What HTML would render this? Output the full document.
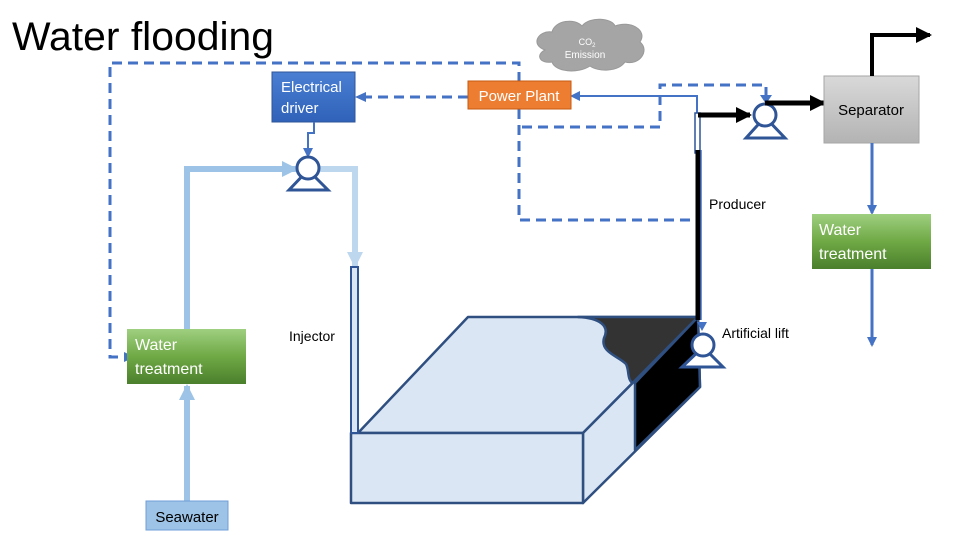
<!DOCTYPE html>
<html><head><meta charset="utf-8"><style>
html,body{margin:0;padding:0;background:#fff;}
svg{display:block;}
text{font-family:"Liberation Sans",sans-serif;}
</style></head><body>
<svg width="960" height="540" viewBox="0 0 960 540" xmlns="http://www.w3.org/2000/svg">
<defs>
<linearGradient id="gb" x1="0" y1="0" x2="0" y2="1"><stop offset="0" stop-color="#4a7fd4"/><stop offset="1" stop-color="#2f62b8"/></linearGradient>
<linearGradient id="gg" x1="0" y1="0" x2="0" y2="1"><stop offset="0" stop-color="#9fcf80"/><stop offset="0.5" stop-color="#6fa945"/><stop offset="1" stop-color="#4b7f2c"/></linearGradient>
<linearGradient id="gs" x1="0" y1="0" x2="0" y2="1"><stop offset="0" stop-color="#d9d9d9"/><stop offset="1" stop-color="#b3b3b3"/></linearGradient>
<marker id="ab" markerWidth="10" markerHeight="10" refX="8" refY="5" orient="auto" markerUnits="userSpaceOnUse"><path d="M0,0 L10,5 L0,10 Z" fill="#4472c4"/></marker>
<marker id="ak" markerWidth="16" markerHeight="16" refX="14" refY="8" orient="auto" markerUnits="userSpaceOnUse"><path d="M0,0 L16,8 L0,16 Z" fill="#000"/></marker>
<marker id="al" markerWidth="16" markerHeight="16" refX="14" refY="8" orient="auto" markerUnits="userSpaceOnUse"><path d="M0,0 L16,8 L0,16 Z" fill="#9dc3e6"/></marker>
<marker id="al2" markerWidth="16" markerHeight="16" refX="14" refY="8" orient="auto" markerUnits="userSpaceOnUse"><path d="M0,0 L16,8 L0,16 Z" fill="#bdd7ee"/></marker>
</defs>

<text x="12" y="50" font-size="40" fill="#000" textLength="262" lengthAdjust="spacingAndGlyphs">Water flooding</text>

<!-- cloud -->
<path d="M545,50 C530,45 538,30 552,32 C555,20 575,18 582,26 C590,16 612,18 615,26 C630,20 648,30 640,42 C650,50 640,66 625,62 C618,72 598,72 590,66 C578,74 555,72 552,62 C540,64 535,55 545,50 Z" fill="#a5a5a5" stroke="#999" stroke-width="1"/>
<text x="587" y="45" font-size="9" fill="#fff" text-anchor="middle">CO<tspan font-size="6" dy="2">2</tspan></text>
<text x="585" y="58" font-size="10" fill="#fff" text-anchor="middle">Emission</text>

<!-- dashed lines -->
<g fill="none" stroke="#4472c4" stroke-width="3" stroke-dasharray="10,6">
<path d="M519,82 V63 H110 V357 H124"/>
<path d="M468,97 H366"/>
<path d="M519,109 V220 H697"/>
<path d="M522,127 H660 V85 H766 V96"/>
</g>
<path d="M355,97 L366,92 L366,102 Z" fill="#4472c4"/>
<path d="M135,357 L124,352 L124,362 Z" fill="#4472c4"/>
<path d="M766,104 L760,95 L772,95 Z" fill="#4472c4"/>

<path d="M697,113 V96 H572" fill="none" stroke="#4472c4" stroke-width="2" marker-end="url(#ab)"/>

<rect x="272" y="72" width="83" height="50" fill="url(#gb)" stroke="#2f5597" stroke-width="1"/>
<text x="281" y="92" font-size="15" fill="#fff">Electrical</text>
<text x="281" y="113" font-size="15" fill="#fff">driver</text>
<path d="M314,122 V133 H308 V156" fill="none" stroke="#4472c4" stroke-width="2" marker-end="url(#ab)"/>

<rect x="468" y="81" width="103" height="28" fill="#ed7d31" stroke="#c55a11" stroke-width="1"/>
<text x="519" y="101" font-size="15" fill="#fff" text-anchor="middle">Power Plant</text>

<path d="M187,330 V169 H296" fill="none" stroke="#9dc3e6" stroke-width="6" marker-end="url(#al)"/>
<path d="M320,169 H355 V266" fill="none" stroke="#bdd7ee" stroke-width="6" marker-end="url(#al2)"/>
<path d="M187,501 V386" fill="none" stroke="#9dc3e6" stroke-width="6" marker-end="url(#al)"/>

<polygon points="308,170 289,190 328,190" fill="#fff" stroke="#2f5597" stroke-width="3"/>
<circle cx="308" cy="168" r="11" fill="#fff" stroke="#2f5597" stroke-width="3"/>

<rect x="127" y="329" width="119" height="55" fill="url(#gg)"/>
<text x="135" y="350" font-size="16" fill="#fff">Water</text>
<text x="135" y="374" font-size="16" fill="#fff">treatment</text>

<rect x="146" y="501" width="82" height="29" fill="#9dc3e6" stroke="#6f9fd8" stroke-width="1"/>
<text x="187" y="522" font-size="15" fill="#000" text-anchor="middle">Seawater</text>

<text x="289" y="341" font-size="14" fill="#000">Injector</text>

<g stroke="#2f4f80" stroke-width="2.5" stroke-linejoin="round">
<polygon points="358,433 468,317 698,317 583,433" fill="#dae6f4"/>
<path d="M578,317 C600,318 610,326 604,338 C600,352 618,356 626,364 C630,372 626,380 635,385 L698,317 Z" fill="#333" stroke="#2f4f80"/>
<polygon points="583,433 698,317 700,387 583,503" fill="#dae6f4"/>
<polygon points="635,383 698,317 700,387 635,450" fill="#000"/>
<rect x="351" y="433" width="232" height="70" fill="#dae6f4"/>
</g>
<rect x="351" y="267" width="7" height="166" fill="#dae6f4" stroke="#2f5597" stroke-width="2"/>

<rect x="695" y="113" width="5" height="40" fill="#fff" stroke="#2f5597" stroke-width="1.5"/>
<line x1="698" y1="150" x2="698" y2="320" stroke="#000" stroke-width="5"/>
<line x1="701" y1="150" x2="701" y2="320" stroke="#4472c4" stroke-width="1.5"/>
<path d="M702,331 L697,322 L707,322 Z" fill="#4472c4"/>
<text x="709" y="209" font-size="14" fill="#000">Producer</text>

<polygon points="703,347 682,367 723,367" fill="#fff" stroke="#2f5597" stroke-width="3"/>
<circle cx="703" cy="345" r="11" fill="#fff" stroke="#2f5597" stroke-width="3"/>
<text x="722" y="338" font-size="14" fill="#000">Artificial lift</text>

<path d="M698,115 H750" fill="none" stroke="#000" stroke-width="5" marker-end="url(#ak)"/>
<polygon points="765,117 746,138 785,138" fill="#fff" stroke="#2f5597" stroke-width="3"/>
<circle cx="765" cy="115" r="11" fill="#fff" stroke="#2f5597" stroke-width="3"/>
<path d="M765,103 H824" fill="none" stroke="#000" stroke-width="5" marker-end="url(#ak)"/>

<rect x="824" y="76" width="95" height="67" fill="url(#gs)" stroke="#a6a6a6" stroke-width="1"/>
<text x="871" y="115" font-size="15" fill="#000" text-anchor="middle">Separator</text>
<path d="M872,76 V35 H930" fill="none" stroke="#000" stroke-width="4" marker-end="url(#ak)"/>
<path d="M872,143 V213" fill="none" stroke="#4472c4" stroke-width="3" marker-end="url(#ab)"/>

<rect x="812" y="214" width="119" height="55" fill="url(#gg)"/>
<text x="819" y="235" font-size="16" fill="#fff">Water</text>
<text x="819" y="259" font-size="16" fill="#fff">treatment</text>
<path d="M872,269 V345" fill="none" stroke="#4472c4" stroke-width="3" marker-end="url(#ab)"/>
</svg>
</body></html>
